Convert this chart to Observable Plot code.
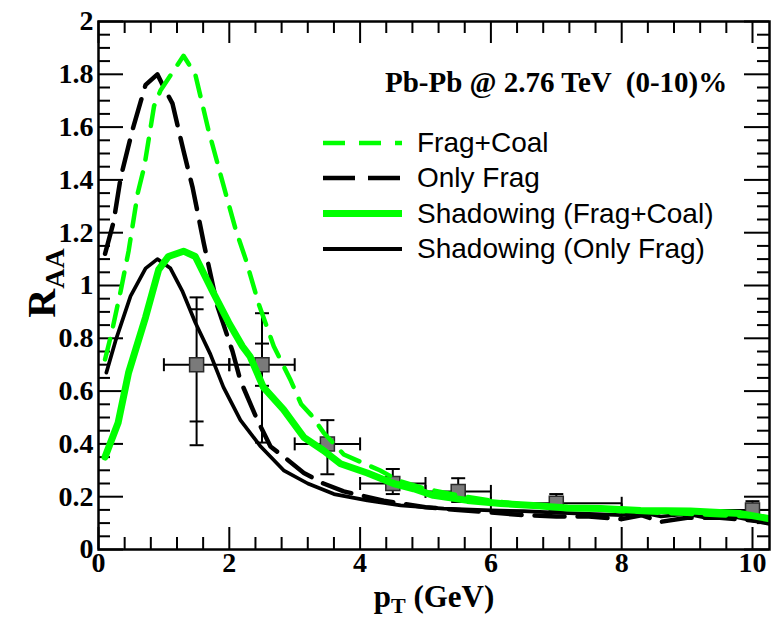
<!DOCTYPE html>
<html>
<head>
<meta charset="utf-8">
<script src="https://cdn.jsdelivr.net/npm/d3@7"></script>
<script src="https://cdn.jsdelivr.net/npm/@observablehq/plot@0.6"></script>
<style>
  html, body { margin: 0; padding: 0; background: #fff; }
  svg { display: block; }
</style>
</head>
<body>
<div id="chart"></div>
<script>
// ---------- data ----------
const fragCoalX = [0.1, 0.2, 0.34, 0.46, 0.6, 0.7, 0.85, 0.95, 1.3, 1.48, 1.68, 1.91, 2.1, 2.25, 2.45, 2.68, 2.94, 3.1, 3.25, 3.45, 3.75, 4.3, 4.6, 5.0, 5.5, 6.0, 6.5, 7.0, 7.5, 8.0, 8.5, 9.0, 9.5, 10.0, 10.3];
const fragCoalY = [0.72, 0.82, 0.98, 1.13, 1.35, 1.45, 1.68, 1.74, 1.87, 1.80, 1.59, 1.38, 1.21, 1.10, 0.93, 0.77, 0.64, 0.55, 0.51, 0.44, 0.36, 0.30, 0.26, 0.23, 0.205, 0.185, 0.17, 0.16, 0.155, 0.145, 0.14, 0.135, 0.13, 0.125, 0.12];

const onlyFragX = [0.1, 0.23, 0.34, 0.52, 0.72, 0.9, 1.0, 1.13, 1.3, 1.44, 1.61, 1.82, 2.05, 2.17, 2.43, 2.63, 2.89, 3.14, 3.44, 3.75, 4.36, 5.0, 5.5, 6.0, 6.5, 7.0, 7.5, 8.0, 8.3, 8.6, 9.0, 9.5, 10.0, 10.3];
const onlyFragY = [1.12, 1.24, 1.41, 1.59, 1.76, 1.80, 1.75, 1.69, 1.51, 1.37, 1.16, 0.92, 0.75, 0.64, 0.49, 0.39, 0.34, 0.29, 0.25, 0.22, 0.185, 0.16, 0.15, 0.14, 0.13, 0.125, 0.125, 0.115, 0.13, 0.105, 0.12, 0.12, 0.11, 0.10];

const shadowFCX = [0.1, 0.3, 0.46, 0.72, 0.92, 1.07, 1.3, 1.48, 1.74, 1.99, 2.2, 2.32, 2.52, 2.83, 3.14, 3.44, 3.7, 4.11, 4.51, 4.82, 5.12, 5.64, 6.15, 6.65, 7.17, 7.68, 8.29, 9.05, 9.82, 10.3];
const shadowFCY = [0.35, 0.48, 0.67, 0.88, 1.06, 1.11, 1.13, 1.11, 0.98, 0.86, 0.77, 0.73, 0.615, 0.53, 0.425, 0.375, 0.325, 0.29, 0.25, 0.23, 0.205, 0.186, 0.174, 0.167, 0.157, 0.155, 0.148, 0.146, 0.136, 0.115];

const shadowOFX = [0.12, 0.26, 0.49, 0.72, 0.9, 1.1, 1.28, 1.48, 1.71, 1.91, 2.17, 2.48, 2.83, 3.2, 3.6, 4.11, 4.62, 5.28, 6.0, 6.5, 7.0, 7.5, 8.0, 8.3, 8.6, 9.0, 9.3, 9.6, 10.0, 10.3];
const shadowOFY = [0.67, 0.79, 0.96, 1.065, 1.10, 1.065, 0.98, 0.86, 0.74, 0.615, 0.49, 0.39, 0.30, 0.25, 0.21, 0.186, 0.167, 0.155, 0.148, 0.145, 0.14, 0.135, 0.13, 0.14, 0.125, 0.135, 0.12, 0.13, 0.11, 0.095];

// measured points (ALICE)
const dataX   = [1.5, 2.5, 3.5, 4.5, 5.5, 7.0, 10.0];
const dataY   = [0.70, 0.70, 0.40, 0.25, 0.22, 0.175, 0.15];
const dataXLo = [1, 2, 3, 4, 5, 6, 8];
const dataXHi = [2, 3, 4, 5, 6, 8, 12];
const errLo   = [0.395, 0.405, 0.285, 0.21, 0.18, 0.15, 0.13];
const errHi   = [0.955, 0.895, 0.49, 0.305, 0.27, 0.21, 0.183];
const statX   = [1.5, 2.5];
const statLo  = [0.485, 0.62];
const statHi  = [0.91, 0.78];

const xTicks = [0, 2, 4, 6, 8, 10];
const xTickLabels = ["0", "2", "4", "6", "8", "10"];
const yTicks = [0, 0.2, 0.4, 0.6, 0.8, 1, 1.2, 1.4, 1.6, 1.8, 2];
const yTickLabels = ["0", "0.2", "0.4", "0.6", "0.8", "1", "1.2", "1.4", "1.6", "1.8", "2"];

const legendLabels = ["Frag+Coal", "Only Frag", "Shadowing (Frag+Coal)", "Shadowing (Only Frag)"];
const titleText = "Pb-Pb @ 2.76 TeV  (0-10)%";

// ---------- build ----------
const GREEN = "#00ff00";
const W = 771, H = 621;
const mL = 98, mR = 2, mT = 21, mB = 72;
const fw = W - mL - mR, fh = H - mT - mB;

const zipXY = (xs, ys) => xs.map((x, i) => ({x, y: ys[i]}));
const points = dataX.map((x, i) => ({x, y: dataY[i], xlo: dataXLo[i], xhi: dataXHi[i], lo: errLo[i], hi: errHi[i]}));
const stats = statX.map((x, i) => ({x, lo: statLo[i], hi: statHi[i]}));

const xMinor = d3.range(0.4, 10.27, 0.4).filter(v => Math.abs(v / 2 - Math.round(v / 2)) > 1e-6);
const yMinor = d3.range(0.05, 2, 0.05).filter(v => Math.abs(v / 0.2 - Math.round(v / 0.2)) > 1e-6);

const hCap = {draw(ctx) { ctx.moveTo(-7, 0); ctx.lineTo(7, 0); }};
const vCap = {draw(ctx) { ctx.moveTo(0, -6.5); ctx.lineTo(0, 6.5); }};

const serif = "'Liberation Serif', 'Times New Roman', serif";
const sans = "'Liberation Sans', Arial, sans-serif";

const chart = Plot.plot({
  width: W, height: H,
  marginLeft: mL, marginRight: mR, marginTop: mT, marginBottom: mB,
  style: {fontFamily: serif, background: "#fff"},
  x: {domain: [0, 10.26]},
  y: {domain: [0, 2]},
  marks: [
    // ticks (inward)
    Plot.tickX(xTicks, {x: d => d, insetTop: fh - 22, stroke: "black", strokeWidth: 2}),
    Plot.tickX(xTicks, {x: d => d, insetBottom: fh - 22, stroke: "black", strokeWidth: 2}),
    Plot.tickX(xMinor, {x: d => d, insetTop: fh - 12, stroke: "black", strokeWidth: 2}),
    Plot.tickX(xMinor, {x: d => d, insetBottom: fh - 12, stroke: "black", strokeWidth: 2}),
    Plot.tickY(yTicks, {y: d => d, insetRight: fw - 25, stroke: "black", strokeWidth: 2}),
    Plot.tickY(yTicks, {y: d => d, insetLeft: fw - 25, stroke: "black", strokeWidth: 2}),
    Plot.tickY(yMinor, {y: d => d, insetRight: fw - 12, stroke: "black", strokeWidth: 2}),
    Plot.tickY(yMinor, {y: d => d, insetLeft: fw - 12, stroke: "black", strokeWidth: 2}),
    // axis labels
    Plot.axisX({ticks: xTicks, tickSize: 0, tickPadding: 3, label: null,
      tickFormat: (d, i) => xTickLabels[i], fontSize: 28, fontWeight: "bold", fontFamily: serif, fill: "black"}),
    Plot.axisY({ticks: yTicks, tickSize: 0, tickPadding: 5, label: null,
      tickFormat: (d, i) => yTickLabels[i], fontSize: 28, fontWeight: "bold", fontFamily: serif, fill: "black"}),
    // data error bars
    Plot.ruleY(points, {y: "y", x1: "xlo", x2: "xhi", stroke: "black", strokeWidth: 2, clip: true}),
    Plot.ruleX(points, {x: "x", y1: "lo", y2: "hi", stroke: "black", strokeWidth: 2}),
    Plot.dot(points, {x: "x", y: "lo", symbol: hCap, stroke: "black", strokeWidth: 2, fill: "none"}),
    Plot.dot(points, {x: "x", y: "hi", symbol: hCap, stroke: "black", strokeWidth: 2, fill: "none"}),
    Plot.dot(stats, {x: "x", y: "lo", symbol: hCap, stroke: "black", strokeWidth: 2, fill: "none"}),
    Plot.dot(stats, {x: "x", y: "hi", symbol: hCap, stroke: "black", strokeWidth: 2, fill: "none"}),
    Plot.dot(points, {x: "xlo", y: "y", symbol: vCap, stroke: "black", strokeWidth: 2, fill: "none"}),
    Plot.dot(points.filter(p => p.xhi <= 10.26), {x: "xhi", y: "y", symbol: vCap, stroke: "black", strokeWidth: 2, fill: "none"}),
    Plot.dot(points, {x: "x", y: "y", symbol: "square", r: 7.9, fill: "#7a7a7a", stroke: "#2a2a2a", strokeWidth: 1.5}),
    // curves
    Plot.line(zipXY(shadowOFX, shadowOFY), {x: "x", y: "y", stroke: "black", strokeWidth: 3.7, clip: true}),
    Plot.line(zipXY(onlyFragX, onlyFragY), {x: "x", y: "y", stroke: "black", strokeWidth: 4.5, strokeDasharray: "30,13", clip: true}),
    Plot.line(zipXY(shadowFCX, shadowFCY), {x: "x", y: "y", stroke: GREEN, strokeWidth: 7, clip: true}),
    Plot.line(zipXY(fragCoalX, fragCoalY), {x: "x", y: "y", stroke: GREEN, strokeWidth: 4.5, strokeDasharray: "21,13", clip: true}),
    Plot.frame({stroke: "black", strokeWidth: 2.5})
  ]
});

// ---------- annotations (title, legend, axis titles) ----------
const svg = d3.select(chart);
svg.append("text")
  .attr("x", 385).attr("y", 92).attr("text-anchor", "start")
  .attr("font-family", serif).attr("font-weight", "bold").attr("font-size", 29)
  .attr("fill", "black").attr("xml:space", "preserve")
  .text(titleText);

const legendStyles = [
  {stroke: GREEN, width: 4.5, dash: "22,14"},
  {stroke: "black", width: 4.5, dash: "32,13"},
  {stroke: GREEN, width: 7, dash: null},
  {stroke: "black", width: 4, dash: null}
];
const legendBase = [152, 187, 222.5, 258];
const lg = svg.append("g");
legendLabels.forEach((lab, i) => {
  const s = legendStyles[i];
  const ly = legendBase[i] - 9;
  const ln = lg.append("line").attr("x1", 323).attr("x2", 402).attr("y1", ly).attr("y2", ly)
    .attr("stroke", s.stroke).attr("stroke-width", s.width);
  if (s.dash) ln.attr("stroke-dasharray", s.dash);
  lg.append("text").attr("x", 417).attr("y", legendBase[i]).attr("text-anchor", "start")
    .attr("font-family", sans).attr("font-size", 28).attr("fill", "black").text(lab);
});

// x axis title: p_T (GeV)
const xt = svg.append("text")
  .attr("x", 434).attr("y", 607).attr("text-anchor", "middle")
  .attr("font-family", serif).attr("font-weight", "bold").attr("font-size", 31).attr("fill", "black");
xt.append("tspan").text("p");
xt.append("tspan").attr("font-size", 22).attr("dy", 6).text("T");
xt.append("tspan").attr("dy", -6).text(" (GeV)");

// y axis title: R_AA
const yt = svg.append("text")
  .attr("transform", "translate(55,283) rotate(-90)").attr("text-anchor", "middle")
  .attr("font-family", serif).attr("font-weight", "bold").attr("font-size", 40).attr("fill", "black");
yt.append("tspan").text("R");
yt.append("tspan").attr("font-size", 28).attr("dy", 9).text("AA");

document.getElementById("chart").appendChild(chart);
</script>
</body>
</html>
